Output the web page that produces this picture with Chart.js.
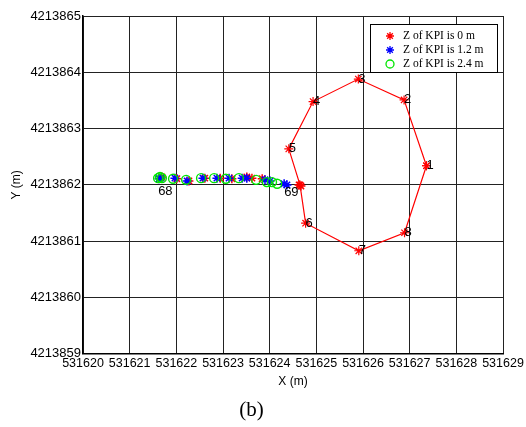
<!DOCTYPE html>
<html>
<head>
<meta charset="utf-8">
<script src="https://cdn.jsdelivr.net/npm/chart.js@4.4.0/dist/chart.umd.min.js"></script>
<style>
  html, body { margin: 0; padding: 0; background: #fff; }
</style>
</head>
<body>
<canvas id="chart" width="526" height="427"></canvas>
<script>
// axis ticks
const xTicks = [531620, 531621, 531622, 531623, 531624, 531625, 531626, 531627, 531628, 531629];
const yTicks = [4213859, 4213860, 4213861, 4213862, 4213863, 4213864, 4213865];

// KPI at 0 m: loop 1..8 (passes through 69) and back to 1
const ringX = [531627.36, 531626.88, 531625.90, 531624.93, 531624.41, 531624.65, 531624.77, 531625.91, 531626.89, 531627.36];
const ringY = [4213862.34, 4213863.51, 4213863.88, 4213863.48, 4213862.64, 4213862.00, 4213861.32, 4213860.83, 4213861.15, 4213862.34];

// KPI at 0 m: points along the straight run 68 -> 69
const redX = [531621.69, 531622.01, 531622.27, 531622.61, 531622.94, 531623.19, 531623.51, 531623.62, 531623.84, 531624.63, 531624.67];
const redY = [4213862.14, 4213862.11, 4213862.07, 4213862.12, 4213862.12, 4213862.11, 4213862.14, 4213862.12, 4213862.11, 4213862.00, 4213861.98];

// KPI at 1.2 m
const blueX = [531621.63, 531621.67, 531621.97, 531622.23, 531622.57, 531622.87, 531623.13, 531623.41, 531623.51, 531623.90, 531624.01, 531624.31, 531624.37];
const blueY = [4213862.11, 4213862.12, 4213862.12, 4213862.07, 4213862.12, 4213862.12, 4213862.12, 4213862.12, 4213862.12, 4213862.09, 4213862.07, 4213862.02, 4213862.00];

// KPI at 2.4 m
const greenX = [531621.61, 531621.65, 531621.69, 531621.93, 531622.21, 531622.53, 531622.81, 531623.06, 531623.34, 531623.71, 531623.94, 531624.05, 531624.16];
const greenY = [4213862.12, 4213862.14, 4213862.12, 4213862.11, 4213862.09, 4213862.12, 4213862.12, 4213862.11, 4213862.12, 4213862.09, 4213862.05, 4213862.05, 4213862.02];

// point numbers
const labelText = ['1', '2', '3', '4', '5', '6', '7', '8', '68', '69'];
const labelX = [531627.36, 531626.88, 531625.90, 531624.93, 531624.41, 531624.77, 531625.91, 531626.89, 531621.61, 531624.31];
const labelY = [4213862.34, 4213863.51, 4213863.88, 4213863.48, 4213862.64, 4213861.32, 4213860.83, 4213861.15, 4213861.88, 4213861.87];

const seriesNames = ['Z of KPI is 0 m', 'Z of KPI is 1.2 m', 'Z of KPI is 2.4 m'];

const toPoints = (xs, ys) => xs.map((x, i) => ({ x: x, y: ys[i] }));

const sansFont = "'Liberation Sans', Arial, sans-serif";
const serifFont = "'Liberation Serif', 'Times New Roman', serif";
const green = '#00e600';

// numbers next to the points
const pointLabels = {
    id: 'pointLabels',
    afterDatasetsDraw(chart) {
        const { ctx, scales } = chart;
        ctx.save();
        ctx.font = '13px ' + sansFont;
        ctx.fillStyle = '#000';
        ctx.textAlign = 'left';
        ctx.textBaseline = 'middle';
        labelText.forEach((t, i) => {
            ctx.fillText(t, scales.x.getPixelForValue(labelX[i]), scales.y.getPixelForValue(labelY[i]));
        });
        ctx.restore();
    }
};

function drawMarker(ctx, style, color, x, y) {
    ctx.strokeStyle = color;
    ctx.lineWidth = 1.3;
    ctx.beginPath();
    if (style === 'circle') {
        ctx.arc(x, y, 4, 0, Math.PI * 2);
    } else {
        const r = 4, d = r * 0.707;
        ctx.moveTo(x - r, y); ctx.lineTo(x + r, y);
        ctx.moveTo(x, y - r); ctx.lineTo(x, y + r);
        ctx.moveTo(x - d, y - d); ctx.lineTo(x + d, y + d);
        ctx.moveTo(x - d, y + d); ctx.lineTo(x + d, y - d);
    }
    ctx.stroke();
}

// boxed legend in the upper right corner of the plot
const boxLegend = {
    id: 'boxLegend',
    afterDraw(chart) {
        const { ctx, chartArea } = chart;
        const w = 127, h = 48;
        const x0 = chartArea.right - 6 - w, y0 = chartArea.top + 8;
        ctx.save();
        ctx.fillStyle = '#fff';
        ctx.fillRect(x0, y0, w, h);
        ctx.strokeStyle = '#000';
        ctx.lineWidth = 1;
        ctx.strokeRect(x0 + 0.5, y0 + 0.5, w, h);
        const styles = ['star', 'star', 'circle'];
        const colors = ['#ff0000', '#0000ff', green];
        ctx.font = '11.5px ' + serifFont;
        ctx.fillStyle = '#000';
        ctx.textBaseline = 'middle';
        seriesNames.forEach((name, i) => {
            const yy = y0 + 12 + i * 14;
            drawMarker(ctx, styles[i], colors[i], x0 + 20, yy);
            ctx.fillText(name, x0 + 33, yy);
        });
        ctx.restore();
    }
};

new Chart(document.getElementById('chart'), {
    type: 'scatter',
    data: {
        datasets: [
            {
                label: seriesNames[2],
                data: toPoints(greenX, greenY),
                pointStyle: 'circle',
                pointRadius: 4.5,
                borderColor: green,
                backgroundColor: 'rgba(0,0,0,0)',
                borderWidth: 1.4
            },
            {
                label: seriesNames[1],
                data: toPoints(blueX, blueY),
                pointStyle: 'star',
                pointRadius: 4.5,
                borderColor: '#0000ff',
                backgroundColor: '#0000ff',
                borderWidth: 1.5
            },
            {
                label: seriesNames[0],
                data: toPoints(redX, redY),
                pointStyle: 'star',
                pointRadius: 4.5,
                borderColor: '#ff0000',
                backgroundColor: '#ff0000',
                borderWidth: 1.5
            },
            {
                label: 'ring',
                data: toPoints(ringX, ringY),
                showLine: true,
                pointStyle: 'star',
                pointRadius: 4.5,
                borderColor: '#ff0000',
                backgroundColor: '#ff0000',
                borderWidth: 1.2
            }
        ]
    },
    options: {
        responsive: false,
        animation: false,
        layout: { padding: { left: 0, right: 23, top: 16, bottom: 0 } },
        plugins: {
            legend: { display: false },
            tooltip: { enabled: false },
            title: {
                display: true,
                position: 'bottom',
                text: '(b)',
                color: '#000',
                font: { family: serifFont, size: 21, weight: 'normal' },
                padding: { top: 6, bottom: 4 }
            }
        },
        scales: {
            x: {
                type: 'linear',
                min: 531620,
                max: 531629,
                afterBuildTicks: (s) => { s.ticks = xTicks.map(v => ({ value: v })); },
                afterFit: (s) => { s.height = 38; },
                ticks: {
                    callback: (v) => String(v),
                    color: '#000',
                    font: { family: sansFont, size: 12.5 },
                    padding: 2,
                    maxRotation: 0,
                    autoSkip: false
                },
                grid: { color: '#222', lineWidth: 1, drawTicks: false },
                border: { color: '#000', width: 1.5 },
                title: {
                    display: true,
                    text: 'X (m)',
                    color: '#000',
                    font: { family: sansFont, size: 12 },
                    padding: { top: 3, bottom: 3 }
                }
            },
            y: {
                type: 'linear',
                min: 4213859,
                max: 4213865,
                afterBuildTicks: (s) => { s.ticks = yTicks.map(v => ({ value: v })); },
                afterFit: (s) => { s.width = 83; },
                ticks: {
                    callback: (v) => String(v),
                    color: '#000',
                    font: { family: sansFont, size: 13 },
                    padding: 2,
                    autoSkip: false
                },
                grid: { color: '#222', lineWidth: 1, drawTicks: false },
                border: { color: '#000', width: 1.5 },
                title: {
                    display: true,
                    text: 'Y (m)',
                    color: '#000',
                    font: { family: sansFont, size: 12 },
                    padding: { top: 9, bottom: 9 }
                }
            }
        }
    },
    plugins: [pointLabels, boxLegend]
});
</script>
</body>
</html>
